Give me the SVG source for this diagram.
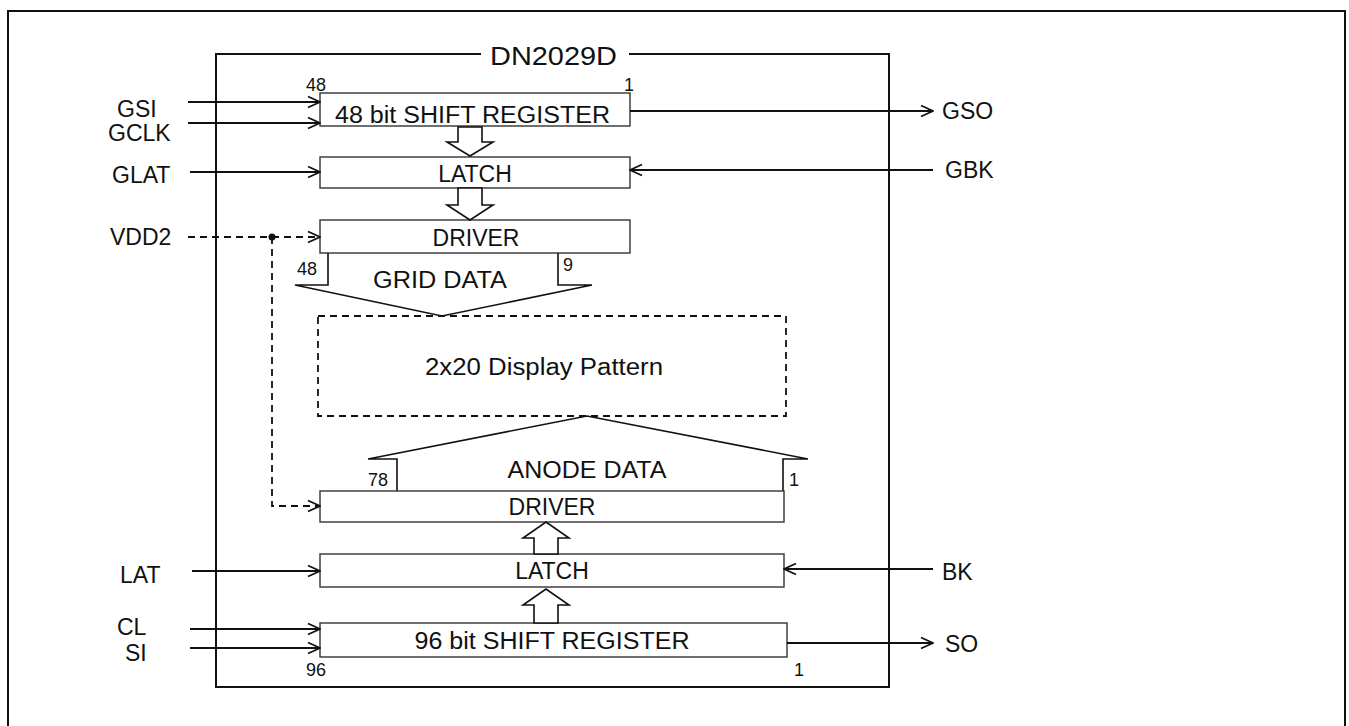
<svg xmlns="http://www.w3.org/2000/svg" width="1349" height="726" viewBox="0 0 1349 726">
<style>
text{font-family:"Liberation Sans",Arial,sans-serif;fill:#111}
.lbl{font-size:23px}
.small{font-size:18px}
.box{fill:#fff;stroke:#333;stroke-width:1.4}
.frame{fill:none;stroke:#111;stroke-width:2}
.wire{fill:none;stroke:#111;stroke-width:1.8}
.dash{fill:none;stroke:#111;stroke-width:1.8;stroke-dasharray:7 5}
.hollow{fill:#fff;stroke:#111;stroke-width:1.6;stroke-linejoin:miter}
.shape{fill:none;stroke:#111;stroke-width:1.6}
</style>
<defs>
<marker id="ah" markerUnits="userSpaceOnUse" markerWidth="14" markerHeight="14" refX="13" refY="7" orient="auto">
<path d="M1,1.5 L13,7 L1,12.5" fill="none" stroke="#111" stroke-width="1.8"/>
</marker>
</defs>
<rect width="1349" height="726" fill="#fff"/>
<g id="outer-frame">
<path class="frame" d="M8,726 V11 H1345 V726"/>
</g>
<g id="chip">
<path class="frame" d="M481,54 H216 V687 H889 V54 H629"/>
<text x="553.5" y="65" font-size="25" text-anchor="middle" textLength="127" lengthAdjust="spacingAndGlyphs">DN2029D</text>
</g>
<g id="sr48">
<rect class="box" x="320" y="93" width="310" height="33"/>
<text class="lbl" x="472.5" y="123" text-anchor="middle" textLength="275" lengthAdjust="spacingAndGlyphs">48 bit SHIFT REGISTER</text>
<text class="small" x="306" y="91">48</text>
<text class="small" x="624" y="91">1</text>
</g>
<g id="latch1">
<rect class="box" x="320" y="157" width="310" height="31"/>
<text class="lbl" x="475" y="182" text-anchor="middle">LATCH</text>
</g>
<g id="driver1">
<rect class="box" x="320" y="220" width="310" height="33"/>
<text class="lbl" x="476" y="246" text-anchor="middle">DRIVER</text>
</g>
<g id="grid-data">
<path class="shape" d="M328,253 V285 H295 L442,316 L592,285 H558 V253"/>
<text class="lbl" x="440" y="288" text-anchor="middle" textLength="134" lengthAdjust="spacingAndGlyphs">GRID DATA</text>
<text class="small" x="297" y="275">48</text>
<text class="small" x="563" y="271">9</text>
</g>
<g id="display">
<rect x="318" y="316" width="468" height="100" fill="none" stroke="#111" stroke-width="1.8" stroke-dasharray="7 5"/>
<text class="lbl" x="544" y="375" text-anchor="middle" textLength="238" lengthAdjust="spacingAndGlyphs">2x20 Display Pattern</text>
</g>
<g id="anode-data">
<path class="shape" d="M397,491 V459 H368 L587,416 L808,459 H783 V491"/>
<text class="lbl" x="587" y="478" text-anchor="middle" textLength="159" lengthAdjust="spacingAndGlyphs">ANODE DATA</text>
<text class="small" x="368" y="486">78</text>
<text class="small" x="789" y="486">1</text>
</g>
<g id="driver2">
<rect class="box" x="320" y="491" width="464" height="31"/>
<text class="lbl" x="552" y="515" text-anchor="middle">DRIVER</text>
</g>
<g id="latch2">
<rect class="box" x="320" y="554" width="464" height="33"/>
<text class="lbl" x="552" y="579" text-anchor="middle">LATCH</text>
</g>
<g id="sr96">
<rect class="box" x="320" y="623" width="467" height="34"/>
<text class="lbl" x="552" y="649" text-anchor="middle" textLength="275" lengthAdjust="spacingAndGlyphs">96 bit SHIFT REGISTER</text>
<text class="small" x="306" y="676">96</text>
<text class="small" x="794" y="676">1</text>
</g>
<g id="bus-arrows">
<polygon class="hollow" points="458,127 482,127 482,142 493,142 470,156 447,142 458,142"/>
<polygon class="hollow" points="458,188 482,188 482,205 493,205 470,220 447,205 458,205"/>
<polygon class="hollow" points="534,554 558,554 558,538 569,538 546,522 523,538 534,538"/>
<polygon class="hollow" points="534,623 558,623 558,605 569,605 546,589 523,605 534,605"/>
</g>
<g id="signals">
<text class="lbl" x="117" y="117">GSI</text>
<text class="lbl" x="108" y="141">GCLK</text>
<text class="lbl" x="112" y="183">GLAT</text>
<text class="lbl" x="110" y="245">VDD2</text>
<text class="lbl" x="120" y="583">LAT</text>
<text class="lbl" x="117" y="635" font-size="22">CL</text>
<text class="lbl" x="125" y="661" font-size="22">SI</text>
<text class="lbl" x="942" y="119">GSO</text>
<text class="lbl" x="945" y="178">GBK</text>
<text class="lbl" x="942" y="580">BK</text>
<text class="lbl" x="945" y="652">SO</text>
</g>
<g id="connectors">
<line class="wire" x1="188" y1="102" x2="320" y2="102" marker-end="url(#ah)"/>
<line class="wire" x1="188" y1="123" x2="320" y2="123" marker-end="url(#ah)"/>
<line class="wire" x1="190" y1="172" x2="320" y2="172" marker-end="url(#ah)"/>
<line class="wire" x1="630" y1="111" x2="933" y2="111" marker-end="url(#ah)"/>
<line class="wire" x1="933" y1="170" x2="630" y2="170" marker-end="url(#ah)"/>
<line class="dash" x1="188" y1="237" x2="320" y2="237" marker-end="url(#ah)"/>
<path class="dash" d="M272,237 V506 H320" marker-end="url(#ah)"/>
<circle cx="272" cy="237" r="3.5" fill="#111"/>
<line class="wire" x1="192" y1="571" x2="320" y2="571" marker-end="url(#ah)"/>
<line class="wire" x1="933" y1="569" x2="784" y2="569" marker-end="url(#ah)"/>
<line class="wire" x1="190" y1="629" x2="320" y2="629" marker-end="url(#ah)"/>
<line class="wire" x1="190" y1="648" x2="320" y2="648" marker-end="url(#ah)"/>
<line class="wire" x1="787" y1="643" x2="933" y2="643" marker-end="url(#ah)"/>
</g>
</svg>
